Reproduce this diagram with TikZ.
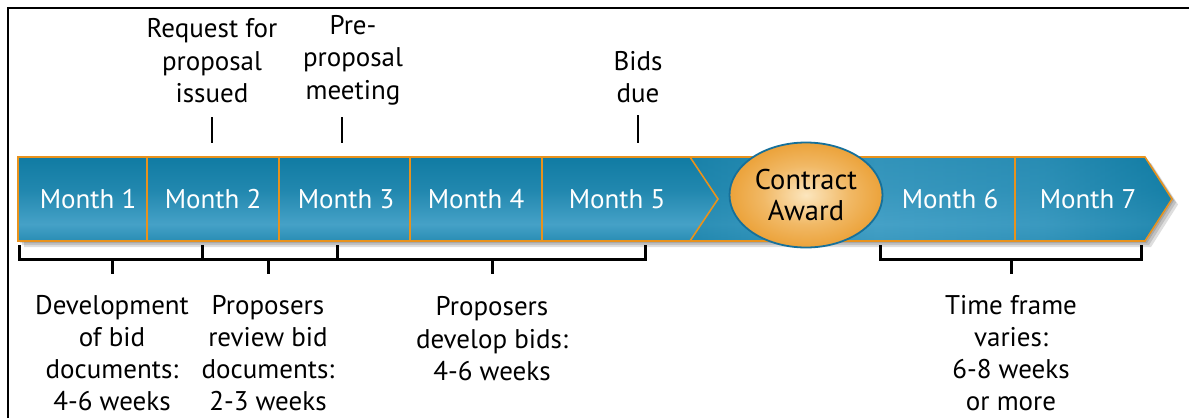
\documentclass[tikz,border=0pt]{standalone}
\usepackage{fontspec}
\setmainfont{PT Sans}
\usetikzlibrary{shapes.geometric,calc}
\definecolor{bandorange}{HTML}{E8921C}
\definecolor{blueD}{HTML}{05739B}
\definecolor{blueL}{HTML}{45A1C7}
\definecolor{ellO}{HTML}{E8941E}
\definecolor{ellL}{HTML}{FCE6BE}
\definecolor{ellB}{HTML}{16709A}
\pgfdeclareverticalshading{bandv}{100bp}{color(0bp)=(blueD); color(12bp)=(blueD); color(35bp)=(blueL); color(55bp)=(blueD!55!blueL); color(88bp)=(blueD); color(100bp)=(blueD)}
\pgfdeclarehorizontalshading{bandh}{100bp}{color(0bp)=(blueD); color(14bp)=(blueD); color(45bp)=(blueL); color(62bp)=(blueL!75!blueD); color(75bp)=(blueD!80!blueL); color(100bp)=(blueD)}
\pgfdeclareradialshading{ellshade}{\pgfpoint{0bp}{0bp}}{color(0bp)=(ellL); color(14bp)=(ellO!55!ellL); color(32bp)=(ellO); color(50bp)=(ellO!92!black); color(100bp)=(ellO!92!black)}
\tikzset{
  cellfill/.style={shading=bandv, draw=bandorange, line width=1.6pt},
  monthtxt/.style={text=white, font=\fontsize{27}{32}\selectfont},
  lbl/.style={text=black, align=center, font=\fontsize{27}{32.5}\selectfont, inner sep=0pt},
  tick/.style={draw=black, line width=2.6pt},
  brk/.style={draw=black, line width=3pt},
  shadowfill/.style={fill=black, fill opacity=0.13, draw=none},
}
\begin{document}
\begin{tikzpicture}[x=1pt,y=-1pt]
\useasboundingbox (0,0) rectangle (1189,418);
\fill[white] (0,0) rectangle (1189,418);
% frame
\draw[line width=2.6pt] (8,418) -- (8,8) -- (1189,8);

% shadows
\foreach \d in {2,4,6}{
  \path[shadowfill] (18+\d,157+\d) -- (1145+\d,157+\d) -- (1172+\d,198.5+\d) -- (1145+\d,241+\d) -- (18+\d,241+\d) -- cycle;
}

% second band
\path[shading=bandh] (680,157) -- (1145,157) -- (1172,199) -- (1145,241) -- (680,241) -- cycle;
\path[shading=bandv, fill opacity=0.35] (680,157) -- (1145,157) -- (1172,199) -- (1145,241) -- (680,241) -- cycle;
\draw[draw=bandorange, line width=1.6pt] (680,157) -- (1145,157) -- (1172,199) -- (1145,241) -- (680,241);
\draw[draw=bandorange, line width=1.6pt] (1015,157) -- (1015,241);

% first band cells
\path[cellfill] (18,157) rectangle (147,241);
\path[cellfill] (147,157) rectangle (279,241);
\path[cellfill] (279,157) rectangle (410,241);
\path[cellfill] (410,157) rectangle (542,241);
\path[cellfill] (542,157) -- (690,157) -- (718,199) -- (690,241) -- (542,241) -- cycle;

% contract award
\node[ellipse, minimum width=153pt, minimum height=105pt, inner sep=0pt, shading=ellshade, draw=ellB, line width=1.8pt] (award) at (806,195) {};
\node[lbl, font=\fontsize{28.5}{31}\selectfont] (awardtxt) at (806,195) {Contract\\Award};

% month labels
\node[monthtxt] (m1) at (88,199) {Month 1};
\node[monthtxt] (m2) at (213,199) {Month 2};
\node[monthtxt] (m3) at (346,199) {Month 3};
\node[monthtxt] (m4) at (476,199) {Month 4};
\node[monthtxt] (m5) at (617,199) {Month 5};
\node[monthtxt] (m6) at (950,199) {Month 6};
\node[monthtxt] (m7) at (1088,199) {Month 7};

% top labels
\node[lbl] (req) at (212,61) {Request for\\proposal\\issued};
\node[lbl] (pre) at (353,60) {Pre-\\proposal\\meeting};
\node[lbl] (bids) at (638,77) {Bids\\due};

% top ticks
\coordinate (t1a) at (212,117); \coordinate (t1b) at (212,143);
\coordinate (t2a) at (342,117); \coordinate (t2b) at (342,143);
\coordinate (t3a) at (638,115); \coordinate (t3b) at (638,143);
\draw[tick] (t1a) -- (t1b);
\draw[tick] (t2a) -- (t2b);
\draw[tick] (t3a) -- (t3b);

% brackets
\coordinate (bL) at (19,245); \coordinate (bR) at (645,245);
\draw[brk] (bL) -- (19,259) -- (645,259) -- (bR);
\draw[brk] (202,259) -- (202,245);
\draw[brk] (337,259) -- (337,245);
\draw[brk] (112,259) -- (112,274);
\draw[brk] (268,259) -- (268,274);
\draw[brk] (492,259) -- (492,274);
\draw[brk] (880,245) -- (880,259) -- (1141,259) -- (1141,245);
\draw[brk] (1011,259) -- (1011,274);

% bottom labels
\node[lbl, font=\fontsize{27}{32}\selectfont] (dev) at (112,353) {Development\\of bid\\documents:\\4-6 weeks};
\node[lbl, font=\fontsize{27}{32}\selectfont] (rev) at (268,353) {Proposers\\review bid\\documents:\\2-3 weeks};
\node[lbl] (devb) at (492,339) {Proposers\\develop bids:\\4-6 weeks};
\node[lbl, font=\fontsize{27}{32}\selectfont] (time) at (1011,353) {Time frame\\varies:\\6-8 weeks\\or more};
\end{tikzpicture}
\end{document}
